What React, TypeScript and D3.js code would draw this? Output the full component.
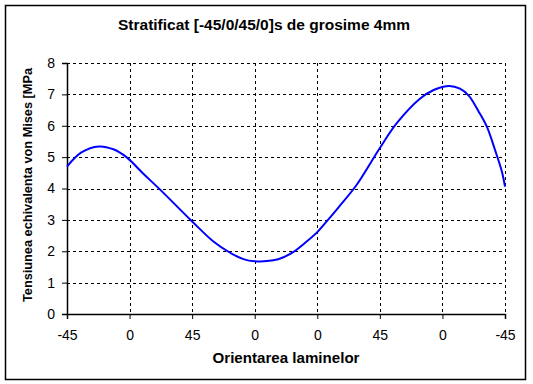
import React, { useEffect, useRef } from 'react';
import * as d3 from 'd3';

// positions along the laminate (tick index) and stress values
const xPos = [0, 0.23, 0.51, 0.74, 0.95, 1.22, 1.48, 2.0, 2.34, 2.6, 2.82, 3.0, 3.3, 3.46, 3.62, 3.83, 4.0, 4.15, 4.34, 4.63, 5.0, 5.27, 5.64, 5.86, 6.11, 6.28, 6.42, 6.58, 6.71, 6.84, 6.95, 7.0];
const stress = [4.7, 5.15, 5.34, 5.25, 5.0, 4.47, 3.98, 2.95, 2.31, 1.96, 1.75, 1.68, 1.71, 1.81, 1.98, 2.31, 2.61, 2.95, 3.4, 4.12, 5.29, 6.08, 6.86, 7.14, 7.27, 7.18, 6.96, 6.45, 5.97, 5.23, 4.54, 4.06];
const xTickLabels = ['-45', '0', '45', '0', '0', '45', '0', '-45'];
const yTicks = [0, 1, 2, 3, 4, 5, 6, 7, 8];

export default function App() {
    const svgRef = useRef<SVGSVGElement>(null);

    useEffect(() => {
        if (!svgRef.current) return;
        const svg = d3.select(svgRef.current);
        svg.selectAll('*').remove();

        const width = 533;
        const height = 384;
        const plot = { left: 67, right: 505, top: 63, bottom: 314 };
        const font = 'Arial, "Liberation Sans", sans-serif';

        const x = d3.scaleLinear().domain([0, 7]).range([plot.left, plot.right]);
        const y = d3.scaleLinear().domain([0, 8]).range([plot.bottom, plot.top]);

        svg.append('rect')
            .attr('width', width).attr('height', height).attr('fill', '#fff');
        // outer frame
        svg.append('rect')
            .attr('x', 5.5).attr('y', 5.5).attr('width', 520).attr('height', 374)
            .attr('fill', 'none').attr('stroke', '#000').attr('stroke-width', 1.5);

        // Title
        svg.append('text')
            .attr('x', 264).attr('y', 30)
            .attr('text-anchor', 'middle')
            .attr('font-family', font).attr('font-size', 14).attr('font-weight', 'bold')
            .attr('textLength', 292).attr('lengthAdjust', 'spacingAndGlyphs')
            .text('Stratificat [-45/0/45/0]s de grosime 4mm');

        // Grid
        const grid = svg.append('g').attr('stroke', '#000').attr('stroke-dasharray', '3,3').attr('stroke-width', 1);
        grid.selectAll('.hg')
            .data(yTicks.filter(d => d > 0))
            .join('line')
            .attr('x1', plot.left).attr('x2', plot.right)
            .attr('y1', d => Math.round(y(d)) + 0.5).attr('y2', d => Math.round(y(d)) + 0.5);
        grid.selectAll('.vg')
            .data(d3.range(1, 8))
            .join('line')
            .attr('y1', plot.top).attr('y2', plot.bottom)
            .attr('x1', d => Math.round(x(d)) + 0.5).attr('x2', d => Math.round(x(d)) + 0.5);

        // Y axis
        const yAxis = svg.append('g')
            .attr('transform', `translate(${plot.left},0)`)
            .call(d3.axisLeft(y).tickValues(yTicks).tickSizeOuter(0).tickSize(5).tickPadding(7));
        yAxis.select('.domain').attr('stroke-width', 1.5);
        yAxis.selectAll('text').attr('font-family', font).attr('font-size', 14).attr('fill', '#000');

        // X axis
        const xAxis = svg.append('g')
            .attr('transform', `translate(0,${plot.bottom})`)
            .call(d3.axisBottom(x).tickValues(d3.range(0, 8)).tickFormat((d, i) => xTickLabels[i]).tickSizeOuter(0).tickSize(5).tickPadding(11));
        xAxis.select('.domain').attr('stroke-width', 1.5);
        xAxis.selectAll('text').attr('font-family', font).attr('font-size', 14).attr('fill', '#000');

        // Axis titles
        svg.append('text')
            .attr('x', 286).attr('y', 363)
            .attr('text-anchor', 'middle')
            .attr('font-family', font).attr('font-size', 14).attr('font-weight', 'bold')
            .attr('textLength', 147).attr('lengthAdjust', 'spacingAndGlyphs')
            .text('Orientarea laminelor');
        svg.append('text')
            .attr('transform', `translate(32,185) rotate(-90)`)
            .attr('text-anchor', 'middle')
            .attr('font-family', font).attr('font-size', 12.5).attr('font-weight', 'bold')
            .attr('textLength', 234).attr('lengthAdjust', 'spacingAndGlyphs')
            .text('Tensiunea echivalenta von Mises [MPa');

        // Curve
        const pts = xPos.map((p, i) => [p, stress[i]] as [number, number]);
        const line = d3.line<[number, number]>()
            .x(d => x(d[0]))
            .y(d => y(d[1]))
            .curve(d3.curveCatmullRom.alpha(0.5));
        svg.append('path')
            .datum(pts)
            .attr('fill', 'none')
            .attr('stroke', '#0000ff')
            .attr('stroke-width', 2)
            .attr('d', line);
    }, []);

    return (
        <svg ref={svgRef} width={533} height={384}
            style={{ position: 'absolute', left: 0, top: 0, display: 'block' }} />
    );
}
